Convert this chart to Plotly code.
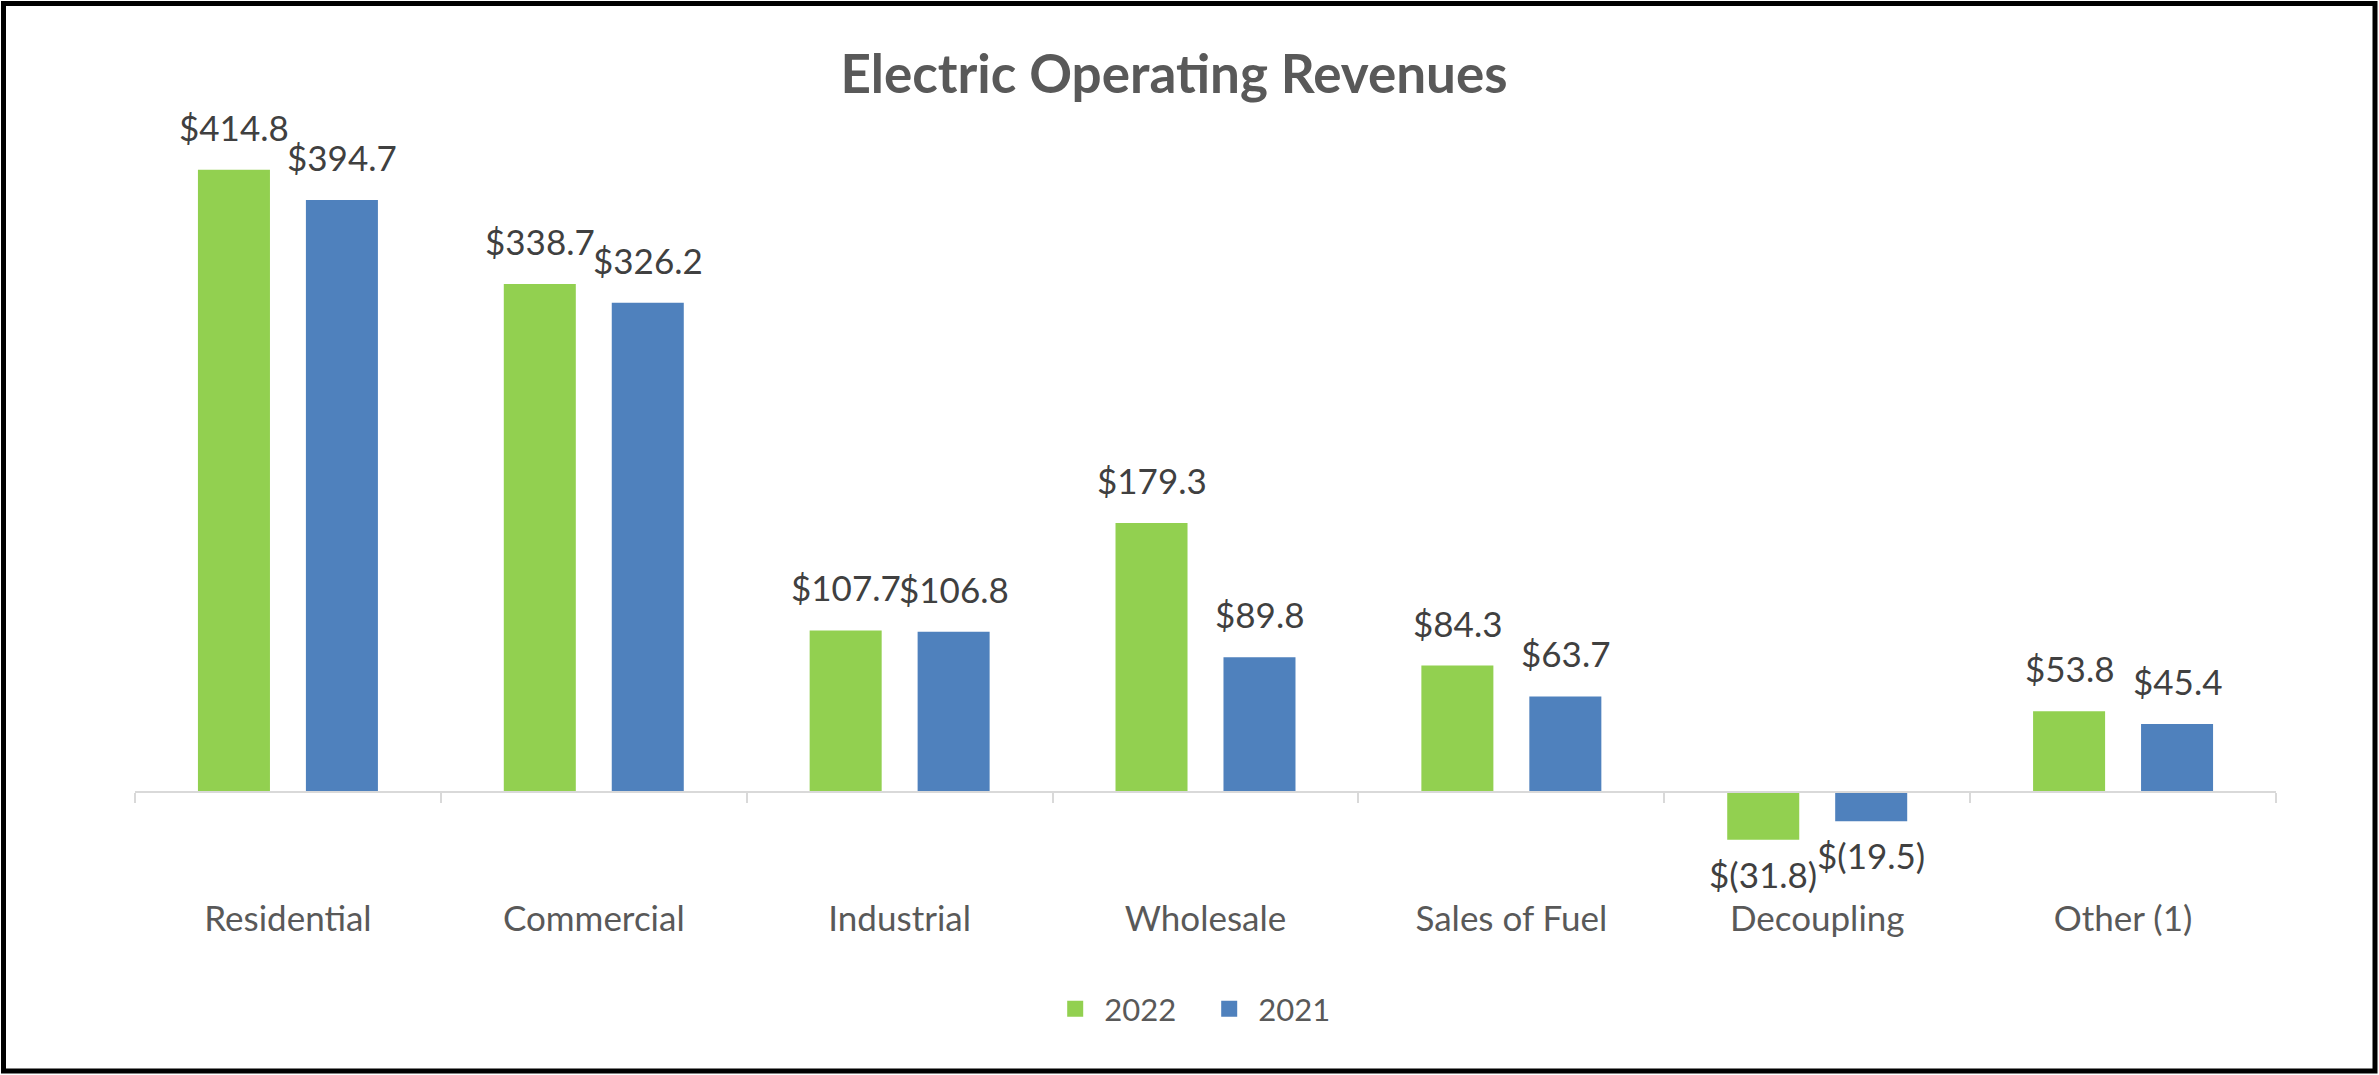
import plotly.graph_objects as go

categories = ["Residential", "Commercial", "Industrial", "Wholesale", "Sales of Fuel", "Decoupling", "Other (1)"]
rev_2022 = [414.8, 338.7, 107.7, 179.3, 84.3, -31.8, 53.8]
rev_2021 = [394.7, 326.2, 106.8, 89.8, 63.7, -19.5, 45.4]
series_names = ["2022", "2021"]
series_colors = ["#92D050", "#4F81BD"]

W, H = 2379, 1075
ML, MR, MT, MB = 135, 103, 150, 215
PW, PH = W - ML - MR, H - MT - MB
Y_MIN, Y_MAX = -45.33, 428.0
BARGAP, GROUPGAP = 0.294, 0.333
FONT = "Lato"
FS = 35

def fmt(v):
    return f"${v:,.1f}" if v >= 0 else f"$({abs(v):,.1f})"

fig = go.Figure()
for name, vals, col in zip(series_names, [rev_2022, rev_2021], series_colors):
    fig.add_trace(go.Bar(x=categories, y=vals, name=name, marker=dict(color=col, line=dict(width=0)),
                         showlegend=False, hoverinfo="skip"))
    # legend swatch entries (bigger squares like the original)
    fig.add_trace(go.Scatter(x=[None], y=[None], mode="markers", name=name,
                             marker=dict(symbol="square", size=22, color=col)))

cat_px = PW / len(categories)
slot_px = cat_px * (1 - BARGAP) / 2
annotations = []
for i, vals in enumerate([rev_2022, rev_2021]):
    dx = (i - 0.5) * slot_px
    for c, v in zip(categories, vals):
        annotations.append(dict(
            x=c, y=v, xref="x", yref="y", text=fmt(v), showarrow=False,
            xshift=dx, yanchor="bottom" if v >= 0 else "top",
            yshift=20 if v >= 0 else -11,
            font=dict(family=FONT, size=FS, color="#404040")))

zero_frac = -Y_MIN / (Y_MAX - Y_MIN)

def px_x(p):
    return (p - ML) / PW

def px_y(p):
    return (H - MB - p) / PH

fig.update_layout(
    width=W, height=H,
    margin=dict(l=ML, r=MR, t=MT, b=MB, pad=0, autoexpand=False),
    paper_bgcolor="white", plot_bgcolor="white",
    barmode="group", bargap=BARGAP, bargroupgap=GROUPGAP,
    title=dict(text="<b>Electric Operating Revenues</b>", x=0.4935, xref="container", xanchor="center",
               y=1 - 74 / H, yref="container", yanchor="middle",
               font=dict(family=FONT, size=53, color="#595959")),
    font=dict(family=FONT, color="#595959"),
    xaxis=dict(type="category", anchor="free", position=zero_frac, automargin=False,
               showline=True, linecolor="#D9D9D9", linewidth=2,
               ticks="outside", tickson="boundaries", ticklen=10, tickwidth=2, tickcolor="#D9D9D9",
               ticklabelstandoff=96, showgrid=False, zeroline=False,
               tickfont=dict(family=FONT, size=FS, color="#595959")),
    yaxis=dict(range=[Y_MIN, Y_MAX], visible=False, showgrid=False, zeroline=False, automargin=False),
    legend=dict(orientation="h", xref="container", yref="container", x=0.5045, xanchor="center",
                y=1 - 1009 / H, yanchor="middle", entrywidth=91, entrywidthmode="pixels",
                itemwidth=48,
                font=dict(family=FONT, size=31, color="#595959"), bgcolor="rgba(0,0,0,0)"),
    annotations=annotations,
    shapes=[dict(type="rect", xref="paper", yref="paper",
                 x0=px_x(3.5), x1=px_x(2375), y0=px_y(1071), y1=px_y(3.5),
                 line=dict(color="black", width=5), fillcolor="rgba(0,0,0,0)", layer="above")],
)

fig.write_html("out.html", config={"displayModeBar": False},
               post_script="document.body.style.margin='0';document.body.style.overflow='hidden';")
